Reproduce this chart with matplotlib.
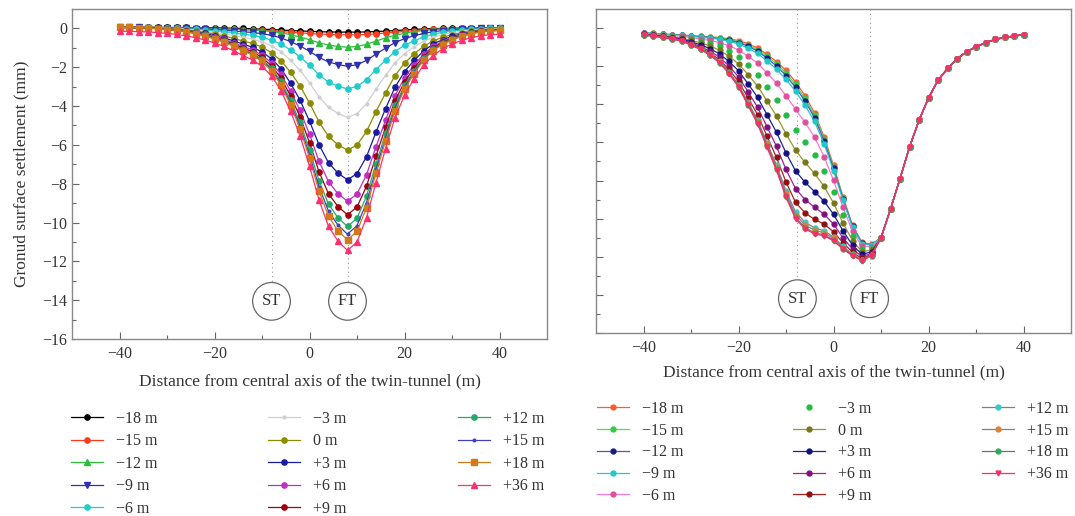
import matplotlib
matplotlib.use('Agg')
import matplotlib.pyplot as plt

plt.rcParams['font.family'] = ['Liberation Serif', 'DejaVu Serif']

# ---------------- data ----------------
x = list(range(-40, 41, 2))
labels = ['−18 m', '−15 m', '−12 m', '−9 m', '−6 m', '−3 m', '0 m',
          '+3 m', '+6 m', '+9 m', '+12 m', '+15 m', '+18 m', '+36 m']

# Left panel (x = -40 ... 40 step 2)
L_m18 = [0.06, 0.06, 0.07, 0.06, 0.06, 0.05, 0.05, 0.05, 0.04, 0.04, 0.03, 0.02, 0.01, 0.0, -0.02, -0.04,
         -0.06, -0.08, -0.11, -0.13, -0.15, -0.17, -0.18, -0.19, -0.19,
         -0.19, -0.18, -0.16, -0.14, -0.11, -0.08, -0.05, -0.03, -0.01, 0.0, 0.01, 0.02, 0.02, 0.02, 0.02, 0.02]
L_m15 = [0.04, 0.04, 0.05, 0.04, 0.04, 0.03, 0.03, 0.02, 0.01, 0.0, -0.01, -0.02, -0.04, -0.06, -0.08, -0.10,
         -0.13, -0.16, -0.20, -0.23, -0.26, -0.29, -0.31, -0.33, -0.33,
         -0.33, -0.31, -0.28, -0.24, -0.20, -0.15, -0.11, -0.08, -0.05, -0.03, -0.01, 0.0, 0.01, 0.01, 0.01, 0.01]
L_m12 = [0.05, 0.05, 0.05, 0.05, 0.04, 0.04, 0.04, 0.03, 0.02, 0.01, 0.0, -0.02, -0.04, -0.06, -0.08, -0.11,
         -0.16, -0.23, -0.32, -0.44, -0.58, -0.74, -0.86, -0.93, -0.97,
         -0.93, -0.82, -0.65, -0.49, -0.35, -0.25, -0.17, -0.11, -0.06, -0.03, -0.01, 0.01, 0.02, 0.03, 0.03, 0.04]
L_m9 = [0.05, 0.05, 0.05, 0.04, 0.04, 0.03, 0.02, 0.01, -0.01, -0.03, -0.06, -0.09, -0.13, -0.17, -0.21, -0.27,
        -0.36, -0.49, -0.68, -0.90, -1.18, -1.49, -1.73, -1.86, -1.95,
        -1.87, -1.65, -1.32, -1.02, -0.73, -0.53, -0.38, -0.26, -0.17, -0.11, -0.07, -0.03, -0.01, 0.01, 0.02, 0.02]
L_m6 = [0.05, 0.05, 0.04, 0.04, 0.03, 0.02, 0.01, -0.01, -0.04, -0.08, -0.12, -0.17, -0.23, -0.30, -0.36, -0.46,
        -0.60, -0.81, -1.11, -1.46, -1.90, -2.39, -2.77, -2.98, -3.12,
        -2.99, -2.64, -2.12, -1.64, -1.19, -0.87, -0.64, -0.44, -0.30, -0.20, -0.13, -0.08, -0.05, -0.02, 0.0, 0.01]
L_m3 = [0.05, 0.05, 0.04, 0.04, 0.02, 0.0, -0.02, -0.04, -0.08, -0.14, -0.20, -0.27, -0.36, -0.46, -0.55, -0.69,
        -0.90, -1.20, -1.64, -2.16, -2.80, -3.52, -4.06, -4.38, -4.58,
        -4.39, -3.88, -3.13, -2.42, -1.77, -1.30, -0.95, -0.67, -0.46, -0.32, -0.22, -0.14, -0.09, -0.05, -0.03, -0.01]
L_0 = [0.05, 0.05, 0.04, 0.03, 0.01, -0.01, -0.04, -0.08, -0.13, -0.20, -0.29, -0.39, -0.51, -0.65, -0.77, -0.96,
       -1.25, -1.66, -2.26, -2.96, -3.84, -4.82, -5.56, -6.00, -6.27,
       -6.01, -5.31, -4.29, -3.33, -2.43, -1.79, -1.32, -0.93, -0.65, -0.46, -0.32, -0.22, -0.14, -0.08, -0.06, -0.04]
L_p3 = [0.05, 0.05, 0.03, 0.03, 0.0, -0.03, -0.06, -0.11, -0.18, -0.26, -0.37, -0.49, -0.64, -0.81, -0.97, -1.21,
        -1.56, -2.07, -2.82, -3.69, -4.78, -5.99, -6.92, -7.46, -7.80,
        -7.48, -6.61, -5.34, -4.14, -3.03, -2.23, -1.65, -1.17, -0.81, -0.58, -0.41, -0.28, -0.19, -0.11, -0.08, -0.06]
L_p6 = [0.05, 0.05, 0.03, 0.02, 0.0, -0.04, -0.08, -0.13, -0.21, -0.31, -0.43, -0.57, -0.74, -0.93, -1.11, -1.38,
        -1.78, -2.37, -3.22, -4.22, -5.45, -6.84, -7.90, -8.52, -8.90,
        -8.53, -7.54, -6.09, -4.73, -3.46, -2.55, -1.89, -1.34, -0.93, -0.67, -0.47, -0.33, -0.22, -0.14, -0.10, -0.08]
L_p9 = [0.05, 0.05, 0.03, 0.02, -0.01, -0.05, -0.09, -0.14, -0.23, -0.34, -0.47, -0.62, -0.80, -1.01, -1.20, -1.49,
        -1.93, -2.56, -3.47, -4.55, -5.88, -7.38, -8.52, -9.18, -9.60,
        -9.20, -8.13, -6.57, -5.10, -3.73, -2.76, -2.04, -1.45, -1.01, -0.72, -0.51, -0.36, -0.24, -0.15, -0.11, -0.09]
L_p12 = [0.05, 0.05, 0.03, 0.02, -0.01, -0.05, -0.09, -0.16, -0.25, -0.36, -0.50, -0.66, -0.85, -1.08, -1.28, -1.59,
         -2.05, -2.72, -3.69, -4.84, -6.25, -7.84, -9.05, -9.76, -10.20,
         -9.78, -8.64, -6.98, -5.42, -3.97, -2.93, -2.17, -1.54, -1.08, -0.77, -0.54, -0.38, -0.26, -0.17, -0.12, -0.09]
L_p15 = [0.05, 0.05, 0.03, 0.02, -0.01, -0.06, -0.10, -0.16, -0.26, -0.38, -0.53, -0.69, -0.89, -1.12, -1.33, -1.65,
         -2.13, -2.83, -3.84, -5.03, -6.50, -8.15, -9.41, -10.14, -10.60,
         -10.16, -8.98, -7.26, -5.64, -4.12, -3.05, -2.26, -1.60, -1.12, -0.80, -0.57, -0.40, -0.27, -0.17, -0.13, -0.10]
L_p18 = [0.05, 0.05, 0.03, 0.02, -0.02, -0.06, -0.10, -0.17, -0.27, -0.39, -0.54, -0.71, -0.91, -1.15, -1.37, -1.70,
         -2.19, -2.91, -3.95, -5.17, -6.68, -8.38, -9.67, -10.43, -10.90,
         -10.45, -9.24, -7.46, -5.80, -4.24, -3.14, -2.33, -1.65, -1.15, -0.83, -0.59, -0.41, -0.28, -0.18, -0.14, -0.10]
L_p36 = [-0.15, -0.15, -0.17, -0.18, -0.22, -0.26, -0.31, -0.38, -0.48, -0.60, -0.75, -0.93, -1.15, -1.40, -1.62, -1.95,
         -2.45, -3.20, -4.27, -5.53, -7.10, -8.84, -10.20, -10.96, -11.44,
         -11.00, -9.75, -7.95, -6.20, -4.60, -3.45, -2.60, -1.90, -1.40, -1.05, -0.80, -0.62, -0.48, -0.38, -0.33, -0.30]

# Right panel: individual part for x = -40 ... 8, shared tail for x = 10 ... 40
R_tail = [-11.00, -9.50, -7.90, -6.25, -4.84, -3.67, -2.74, -2.12, -1.61, -1.25, -0.98, -0.77, -0.60, -0.49, -0.42, -0.35]
R_m18 = [-0.25, -0.28, -0.31, -0.34, -0.37, -0.40, -0.43, -0.46, -0.50, -0.56, -0.66, -0.82, -1.05, -1.38, -1.76, -2.22,
         -2.82, -3.55, -4.45, -5.70, -7.20, -8.85, -10.35, -11.25, -11.35]
R_m15 = [-0.25, -0.28, -0.31, -0.35, -0.38, -0.41, -0.44, -0.48, -0.53, -0.60, -0.71, -0.89, -1.13, -1.48, -1.87, -2.35,
         -2.96, -3.69, -4.58, -5.80, -7.28, -8.91, -10.38, -11.27, -11.36]
R_m12 = [-0.26, -0.29, -0.32, -0.35, -0.38, -0.42, -0.46, -0.50, -0.55, -0.63, -0.76, -0.95, -1.21, -1.58, -1.99, -2.49,
         -3.11, -3.83, -4.70, -5.91, -7.36, -8.96, -10.41, -11.29, -11.37]
R_m9 = [-0.26, -0.29, -0.32, -0.36, -0.39, -0.43, -0.48, -0.53, -0.59, -0.69, -0.83, -1.05, -1.33, -1.72, -2.16, -2.69,
        -3.32, -4.04, -4.90, -6.06, -7.48, -9.04, -10.46, -11.32, -11.39]
R_m6 = [-0.27, -0.31, -0.35, -0.39, -0.43, -0.50, -0.57, -0.65, -0.76, -0.93, -1.15, -1.47, -1.84, -2.35, -2.90, -3.55,
        -4.26, -4.95, -5.72, -6.74, -7.99, -9.40, -10.67, -11.44, -11.47]
R_m3 = [-0.29, -0.33, -0.37, -0.42, -0.48, -0.57, -0.67, -0.80, -0.96, -1.20, -1.51, -1.95, -2.44, -3.09, -3.76, -4.55,
        -5.33, -6.00, -6.67, -7.52, -8.59, -9.81, -10.91, -11.58, -11.56]
R_0 = [-0.31, -0.35, -0.40, -0.46, -0.52, -0.65, -0.78, -0.94, -1.16, -1.48, -1.88, -2.44, -3.04, -3.82, -4.62, -5.55,
       -6.41, -7.05, -7.63, -8.30, -9.18, -10.23, -11.15, -11.73, -11.65]
R_p3 = [-0.33, -0.37, -0.43, -0.50, -0.57, -0.72, -0.88, -1.08, -1.36, -1.75, -2.24, -2.92, -3.63, -4.55, -5.47, -6.55,
        -7.49, -8.09, -8.58, -9.08, -9.77, -10.64, -11.39, -11.87, -11.74]
R_p6 = [-0.34, -0.39, -0.45, -0.53, -0.60, -0.78, -0.97, -1.21, -1.53, -1.99, -2.56, -3.34, -4.15, -5.18, -6.21, -7.42,
        -8.42, -9.00, -9.40, -9.76, -10.29, -11.00, -11.60, -11.99, -11.82]
R_p9 = [-0.36, -0.40, -0.47, -0.55, -0.63, -0.83, -1.04, -1.31, -1.66, -2.17, -2.80, -3.66, -4.54, -5.67, -6.79, -8.08,
        -9.14, -9.70, -10.04, -10.28, -10.69, -11.27, -11.76, -12.09, -11.88]
R_p12 = [-0.36, -0.41, -0.48, -0.57, -0.66, -0.87, -1.09, -1.37, -1.75, -2.30, -2.97, -3.89, -4.82, -6.01, -7.19, -8.55,
         -9.64, -10.19, -10.48, -10.64, -10.96, -11.46, -11.87, -12.15, -11.92]
R_p15 = [-0.37, -0.42, -0.48, -0.57, -0.66, -0.88, -1.10, -1.39, -1.78, -2.34, -3.02, -3.95, -4.90, -6.10, -7.30, -8.68,
         -9.79, -10.33, -10.61, -10.74, -11.04, -11.52, -11.90, -12.17, -11.93]
R_p18 = [-0.37, -0.42, -0.49, -0.58, -0.67, -0.89, -1.11, -1.41, -1.81, -2.37, -3.07, -4.02, -4.98, -6.20, -7.41, -8.81,
         -9.93, -10.47, -10.74, -10.85, -11.12, -11.57, -11.93, -12.19, -11.94]
R_p36 = [-0.37, -0.42, -0.49, -0.58, -0.67, -0.89, -1.12, -1.42, -1.82, -2.39, -3.09, -4.05, -5.02, -6.25, -7.47, -8.88,
         -10.00, -10.54, -10.80, -10.90, -11.16, -11.60, -11.95, -12.20, -11.95]

left_series = [L_m18, L_m15, L_m12, L_m9, L_m6, L_m3, L_0, L_p3, L_p6, L_p9, L_p12, L_p15, L_p18, L_p36]
right_series = [s + R_tail for s in [R_m18, R_m15, R_m12, R_m9, R_m6, R_m3, R_0, R_p3, R_p6, R_p9,
                                     R_p12, R_p15, R_p18, R_p36]]

# ---------------- styles ----------------
L_colors = ['#000000', '#ff3b1f', '#2dbd3c', '#3030b0', '#20cccc', '#cfcfcf', '#8c8c00',
            '#1a1aa0', '#c030c0', '#a00010', '#22aa66', '#4040c0', '#d07a1a', '#ff3070']
L_markers = ['o', 'o', '^', 'v', 'o', '.', 'o', 'o', 'o', 'o', 'o', '.', 's', '^']

R_lcolors = ['#ff5a36', '#55dd55', '#5050c8', '#20c8c8', '#ff77cc', 'none', '#99992a',
             '#2020a0', '#a020a0', '#b02020', '#808080', '#808080', '#707070', '#ff2a6a']
R_mcolors = ['#ff5a36', '#33cc44', '#1a1a80', '#20c8c8', '#e0509a', '#22bb44', '#77771a',
             '#101080', '#801080', '#901010', '#33cccc', '#e08030', '#33aa55', '#ff2a6a']
R_markers = ['o', 'o', 'o', 'o', 'o', 'o', 'o', 'o', 'o', 'o', 'o', 'o', 'o', 'v']

txt = '#333333'
W, H = 1075, 516
fig = plt.figure(figsize=(W / 100, H / 100), dpi=100)


def fx(px):
    return px / W


def fy(py):
    return 1 - py / H


axL = fig.add_axes([fx(72), fy(339), fx(547 - 72), (339 - 9) / H])
axR = fig.add_axes([fx(596), fy(333), fx(1071 - 596), (333 - 9) / H])

handlesL = []
for s, c, m, lab in zip(left_series, L_colors, L_markers, labels):
    h, = axL.plot(x, s, color=c, marker=m, markersize=3.8, linewidth=0.9, label=lab)
    handlesL.append(h)

handlesR = []
for s, lc, mc, m, lab in zip(right_series, R_lcolors, R_mcolors, R_markers, labels):
    ls = 'none' if lc == 'none' else '-'
    h, = axR.plot(x, s, color=(mc if lc == 'none' else lc), linestyle=ls, marker=m,
                  markersize=3.5, markerfacecolor=mc, markeredgecolor=mc,
                  linewidth=0.9, label=lab)
    handlesR.append(h)

for ax in (axL, axR):
    ax.set_xlim(-50, 50)
    ax.set_ylim(-16, 1)
    ax.set_xticks([-40, -20, 0, 20, 40])
    ax.set_xticks([-30, -10, 10, 30], minor=True)
    ax.set_yticks(range(-16, 1, 2))
    ax.set_yticks(range(-15, 0, 2), minor=True)
    ax.tick_params(which='major', direction='in', length=5, width=0.8, color='#666666',
                   labelsize=11.5, labelcolor=txt)
    ax.tick_params(which='minor', direction='in', length=3, width=0.8, color='#666666')
    ax.tick_params(axis='x', which='major', pad=5)
    for sp in ax.spines.values():
        sp.set_color('#888888')
        sp.set_linewidth(1.0)

axL.set_xlabel('Distance from central axis of the twin-tunnel (m)', fontsize=12.5, color=txt, labelpad=8)
axR.set_xlabel('Distance from central axis of the twin-tunnel (m)', fontsize=12.5, color=txt, labelpad=6)
axL.set_yticklabels(['−16', '−14', '−12', '−10', '−8', '−6', '−4', '−2', '0'])
axL.set_xticklabels(['−40', '−20', '0', '20', '40'])
axR.set_xticklabels(['−40', '−20', '0', '20', '40'])
axR.set_yticklabels([])
axL.set_ylabel('Gronud surface settlement (mm)', fontsize=12.5, color=txt, labelpad=9)

# ST / FT markers
for ax, xs, yc in ((axL, (-8, 8), -14.06), (axR, (-7.6, 7.6), -14.2)):
    for xv, name in zip(xs, ('ST', 'FT')):
        ax.plot([xv, xv], [1, yc + 0.95], linestyle=(0, (1, 3)), color='#999999', linewidth=0.8, zorder=0)
        ax.text(xv, yc, name, ha='center', va='center', fontsize=12, color=txt,
                bbox=dict(boxstyle='circle,pad=0.55', fc='white', ec='#666666', lw=0.9))


# legends (three columns each)
def col_legend(handles, x_px, ytop_px, spacing):
    leg = fig.legend(handles=handles, loc='upper left', bbox_to_anchor=(fx(x_px), fy(ytop_px)),
                     frameon=False, fontsize=11.5, handlelength=2.0, handletextpad=0.8,
                     labelspacing=spacing, borderpad=0, borderaxespad=0)
    for t in leg.get_texts():
        t.set_color(txt)
    return leg


col_legend(handlesL[0:5], 71, 411, 0.40)
col_legend(handlesL[5:10], 268, 411, 0.40)
col_legend(handlesL[10:14], 458, 411, 0.40)
col_legend(handlesR[0:5], 597, 401, 0.36)
col_legend(handlesR[5:10], 793, 401, 0.36)
col_legend(handlesR[10:14], 982, 401, 0.36)

fig.savefig('out.png', dpi=100)
